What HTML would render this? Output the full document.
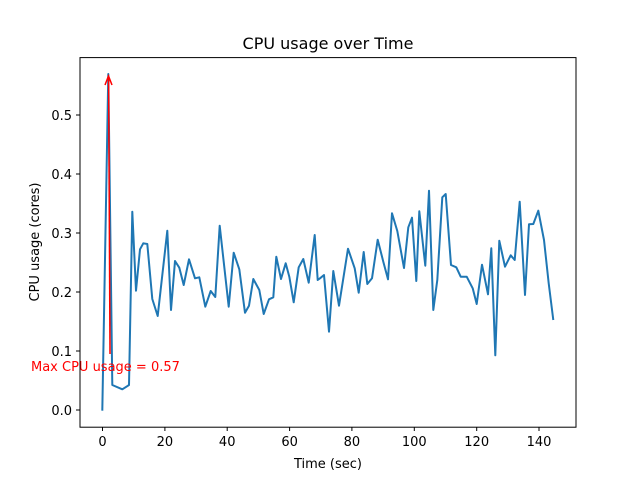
<!DOCTYPE html>
<html><head><style>body{margin:0;background:#fff}svg{display:block}text{font-family:"DejaVu Sans","Liberation Sans",sans-serif}</style></head>
<body>
<svg width="640" height="480" viewBox="0 0 640 480">
<rect width="640" height="480" fill="#fff"/>
<text x="328" y="49" font-size="16" text-anchor="middle">CPU usage over Time</text>
<polyline fill="none" stroke="#1f77b4" stroke-width="2" stroke-linejoin="round" points="102.3,410.7 108.3,74 112.3,385 122.3,389.3 129,385 132.3,211.7 136,290.7 140,249.3 143.3,243.3 147.3,244 152.3,299 157.7,316 167.3,230.7 171,310 175,261 179.3,267.7 183.7,285 189,259.3 195,278.3 199.3,277.3 205.3,306.7 210.7,291 215.3,297 219.7,225.7 228.7,306.7 233.7,252.7 239.3,269.3 245,312.7 249,305.7 253.3,279 259.3,290 263.7,314 269,299.3 273.3,297.3 276.3,256.7 281,279 285.7,263.3 289.3,276.7 293.7,302.3 298.7,267.3 303.3,259 308.7,282.7 314.7,235 317.7,280 320,278.3 324,275 329,331.7 333.3,271 339,305.7 348,248.7 354.7,268.3 358.7,292.7 363.7,252 367.3,284 372,278.3 377.7,239.7 383.3,261.7 388,279.3 392,213.3 397.3,231 404,268 408.3,227.3 412,217.7 416.3,281 419.3,211.3 425.3,265.7 429,190.7 433.3,310 437.3,280 442.3,197.3 445.7,194 451,265 456.3,267.3 460.7,276.7 466.7,276.7 472.7,288.3 476.7,304 482,264.7 488,294.3 491.3,248.3 495.3,355.3 499.3,240.7 505,266.7 510.7,255.3 514.7,260 519.7,201.7 525,295 529,224.3 533.3,224 538.3,210.7 544,240 548.7,283.3 553.3,320"/>
<line x1="110" y1="354" x2="108.6" y2="78" stroke="red" stroke-width="1.5"/>
<path d="M105,85 L108.5,76 L112,85" fill="none" stroke="red" stroke-width="1.5"/>
<text x="31" y="371" font-size="13" fill="red">Max CPU usage = 0.57</text>
<rect x="80" y="57.6" width="496" height="369.6" fill="none" stroke="#000" stroke-width="1"/>
<g stroke="#000" stroke-width="1">
<line x1="102.5" y1="427" x2="102.5" y2="431"/><line x1="164.9" y1="427" x2="164.9" y2="431"/><line x1="227.2" y1="427" x2="227.2" y2="431"/><line x1="289.6" y1="427" x2="289.6" y2="431"/><line x1="351.9" y1="427" x2="351.9" y2="431"/><line x1="414.3" y1="427" x2="414.3" y2="431"/><line x1="476.7" y1="427" x2="476.7" y2="431"/><line x1="539" y1="427" x2="539" y2="431"/>
<line x1="76" y1="410" x2="80" y2="410"/><line x1="76" y1="351" x2="80" y2="351"/><line x1="76" y1="292" x2="80" y2="292"/><line x1="76" y1="233" x2="80" y2="233"/><line x1="76" y1="174" x2="80" y2="174"/><line x1="76" y1="115" x2="80" y2="115"/>
</g>
<g font-size="13" text-anchor="middle">
<text x="102.5" y="446">0</text><text x="164.9" y="446">20</text><text x="227.2" y="446">40</text><text x="289.6" y="446">60</text><text x="351.9" y="446">80</text><text x="414.3" y="446">100</text><text x="476.7" y="446">120</text><text x="539" y="446">140</text>
</g>
<g font-size="13" text-anchor="end">
<text x="72" y="415">0.0</text><text x="72" y="356">0.1</text><text x="72" y="297">0.2</text><text x="72" y="238">0.3</text><text x="72" y="179">0.4</text><text x="72" y="120">0.5</text>
</g>
<text x="328" y="468" font-size="13" text-anchor="middle">Time (sec)</text>
<text transform="translate(39,242) rotate(-90)" font-size="13" text-anchor="middle">CPU usage (cores)</text>
</svg>
</body></html>
